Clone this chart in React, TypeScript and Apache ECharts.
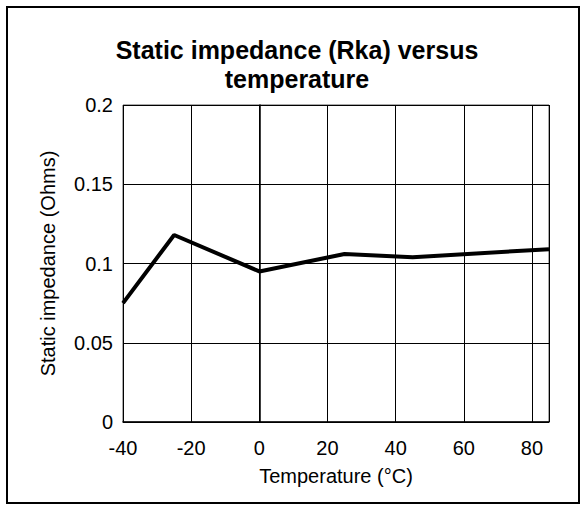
import React, { useEffect, useRef } from "react";
import * as echarts from "echarts";

const temperatures = [-40, -25, 0, 25, 45, 85];
const impedance = [0.075, 0.118, 0.095, 0.106, 0.104, 0.109];

const titleText = "Static impedance (Rka) versus\ntemperature";
const xAxisName = "Temperature (°C)";
const yAxisName = "Static impedance (Ohms)";

const FONT = 'Arial, "Liberation Sans", sans-serif';

export default function App() {
  const ref = useRef<HTMLDivElement>(null);
  useEffect(() => {
    if (!ref.current) return;
    const chart = echarts.init(ref.current, null, { renderer: "svg" });
    chart.setOption({
      animation: false,
      backgroundColor: "#fff",
      textStyle: { fontFamily: FONT },
      graphic: [
        {
          type: "rect",
          shape: { x: 7, y: 7, width: 572, height: 496 },
          style: { fill: "none", stroke: "#000", lineWidth: 2 },
          silent: true,
        },
        {
          type: "text",
          x: 297,
          y: 35,
          style: {
            text: titleText,
            fontSize: 25,
            fontWeight: "bold",
            fontFamily: FONT,
            lineHeight: 29,
            fill: "#000",
            textAlign: "center",
            textVerticalAlign: "top",
          },
        },
      ],
      grid: {
        left: 123,
        right: 37,
        top: 105,
        bottom: 88,
        show: true,
        borderColor: "#555",
        borderWidth: 1,
        backgroundColor: "transparent",
      },
      xAxis: {
        type: "value",
        min: -40,
        max: 85,
        interval: 20,
        name: xAxisName,
        nameLocation: "middle",
        nameGap: 44,
        nameTextStyle: { fontSize: 20, color: "#000", fontFamily: FONT },
        axisLine: { show: true, lineStyle: { color: "#000", width: 1.5 } },
        axisTick: { show: false },
        axisLabel: {
          fontSize: 20,
          color: "#000",
          margin: 16,
          fontFamily: FONT,
          showMaxLabel: false,
        },
        splitLine: { show: true, lineStyle: { color: "#000", width: 1 } },
      },
      yAxis: {
        type: "value",
        min: 0,
        max: 0.2,
        interval: 0.05,
        name: yAxisName,
        nameLocation: "middle",
        nameGap: 65,
        nameTextStyle: { fontSize: 20, color: "#000", fontFamily: FONT },
        axisLine: { show: true, lineStyle: { color: "#000", width: 1.5 } },
        axisTick: { show: false },
        axisLabel: { fontSize: 20, color: "#000", margin: 10, fontFamily: FONT },
        splitLine: { show: true, lineStyle: { color: "#000", width: 1 } },
      },
      series: [
        {
          type: "line",
          data: temperatures.map((t, i) => [t, impedance[i]]),
          symbol: "none",
          lineStyle: { color: "#000", width: 4 },
          itemStyle: { color: "#000" },
        },
      ],
    });
    return () => chart.dispose();
  }, []);
  return (
    <div
      ref={ref}
      style={{ position: "absolute", left: 0, top: 0, width: 586, height: 510 }}
    />
  );
}
